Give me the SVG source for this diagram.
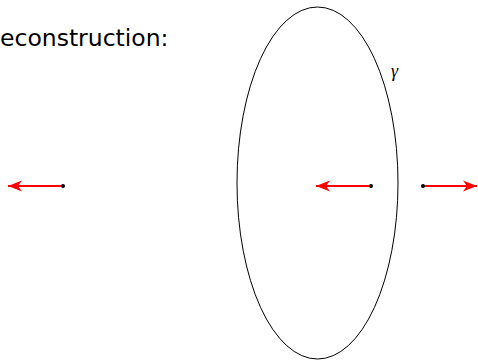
<svg xmlns="http://www.w3.org/2000/svg" width="478" height="360" viewBox="0 0 478 360">
<style>
.lbl{font-family:"DejaVu Sans",sans-serif;font-size:23.5px;fill:#000}
.gam{font-family:"Liberation Serif",serif;font-style:italic;font-size:18px;fill:#000}
.vec{stroke:#f00;stroke-width:2;fill:none}
.dot{fill:#000}
</style>
<defs>
<marker id="ah" markerUnits="userSpaceOnUse" markerWidth="16" markerHeight="12" refX="14" refY="6" orient="auto">
<path d="M0,0.5 L14,6 L0,11.5 L4,6 Z" fill="#f00"/>
</marker>
</defs>
<text class="lbl" x="0" y="46">econstruction:</text>
<g id="gamma">
<ellipse cx="317.5" cy="183" rx="80.5" ry="176" fill="none" stroke="#000" stroke-width="1"/>
<text class="gam" x="391" y="77">γ</text>
</g>
<g id="connectors">
<line class="vec" x1="63" y1="186" x2="8" y2="186" marker-end="url(#ah)"/>
<line class="vec" x1="371" y1="186" x2="316" y2="186" marker-end="url(#ah)"/>
<line class="vec" x1="423" y1="186" x2="477" y2="186" marker-end="url(#ah)"/>
</g>
<g id="p1"><circle class="dot" cx="63" cy="186" r="2"/></g>
<g id="p2"><circle class="dot" cx="371" cy="186" r="2"/></g>
<g id="p3"><circle class="dot" cx="423" cy="186" r="2"/></g>
</svg>
